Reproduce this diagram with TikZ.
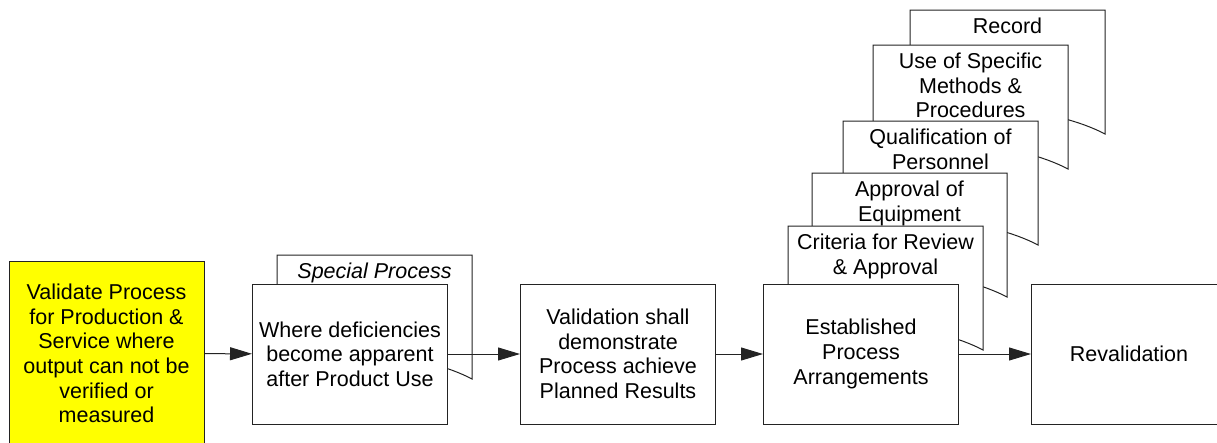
\documentclass[tikz,border=0pt]{standalone}
\usepackage{fontspec}
\setmainfont{Liberation Sans}
\usetikzlibrary{arrows.meta}
\definecolor{boxline}{RGB}{35,35,35}
\definecolor{valyellow}{RGB}{255,255,0}

\begin{document}
\begin{tikzpicture}[x=1pt,y=-1pt,>={Triangle[length=22pt,width=13pt]},
  every node/.style={font=\fontsize{21.5}{24.6}\selectfont},
  box/.style={draw=boxline,fill=white,line width=1pt,minimum width=195pt,minimum height=140pt,align=center,inner sep=0pt},
  doctext/.style={anchor=north,align=center,inner sep=0pt},
  pics/docpage/.style={code={
    \filldraw[draw=boxline,fill=white,line width=1pt] (0,0) -- (195,0) -- (195,124)
      .. controls (150,100) and (50,85) .. (0,112) -- cycle;
    \node[doctext] (-t) at (97.5,8) {#1};
  }}]
\path[use as bounding box] (0,0) rectangle (1217,442);
\clip (0,0) rectangle (1217,442);
% stacked records behind the arrangements box
\pic (rec) at (910,10) {docpage={Record}};
\pic (use) at (873,45) {docpage={Use of Specific\\Methods \&\\Procedures}};
\pic (qual) at (843,121) {docpage={Qualification of\\Personnel}};
\pic (appr) at (812,173) {docpage={Approval of\\Equipment}};
\pic (crit) at (788,226) {docpage={Criteria for Review\\\& Approval}};
\pic (spec) at (277,255) {docpage={\textit{Special Process}}};
% main flow
\node[box,fill=valyellow,minimum height=185pt] (valid) at (106.5,353.5) {Validate Process\\for Production \&\\Service where\\output can not be\\verified or\\measured};
\node[box] (where) at (350,354) {Where deficiencies\\become apparent\\after Product Use};
\node[box] (demo) at (618,354) {Validation shall\\demonstrate\\Process achieve\\Planned Results};
\node[box] (estab) at (861,354) {Established\\Process\\Arrangements};
\node[box] (reval) at (1129,354) {Revalidation};
\draw[->,line width=1pt,boxline] (valid) -- (where);
\draw[->,line width=1pt,boxline] (where) -- (demo);
\draw[->,line width=1pt,boxline] (demo) -- (estab);
\draw[->,line width=1pt,boxline] (estab) -- (reval);
\end{tikzpicture}
\end{document}
